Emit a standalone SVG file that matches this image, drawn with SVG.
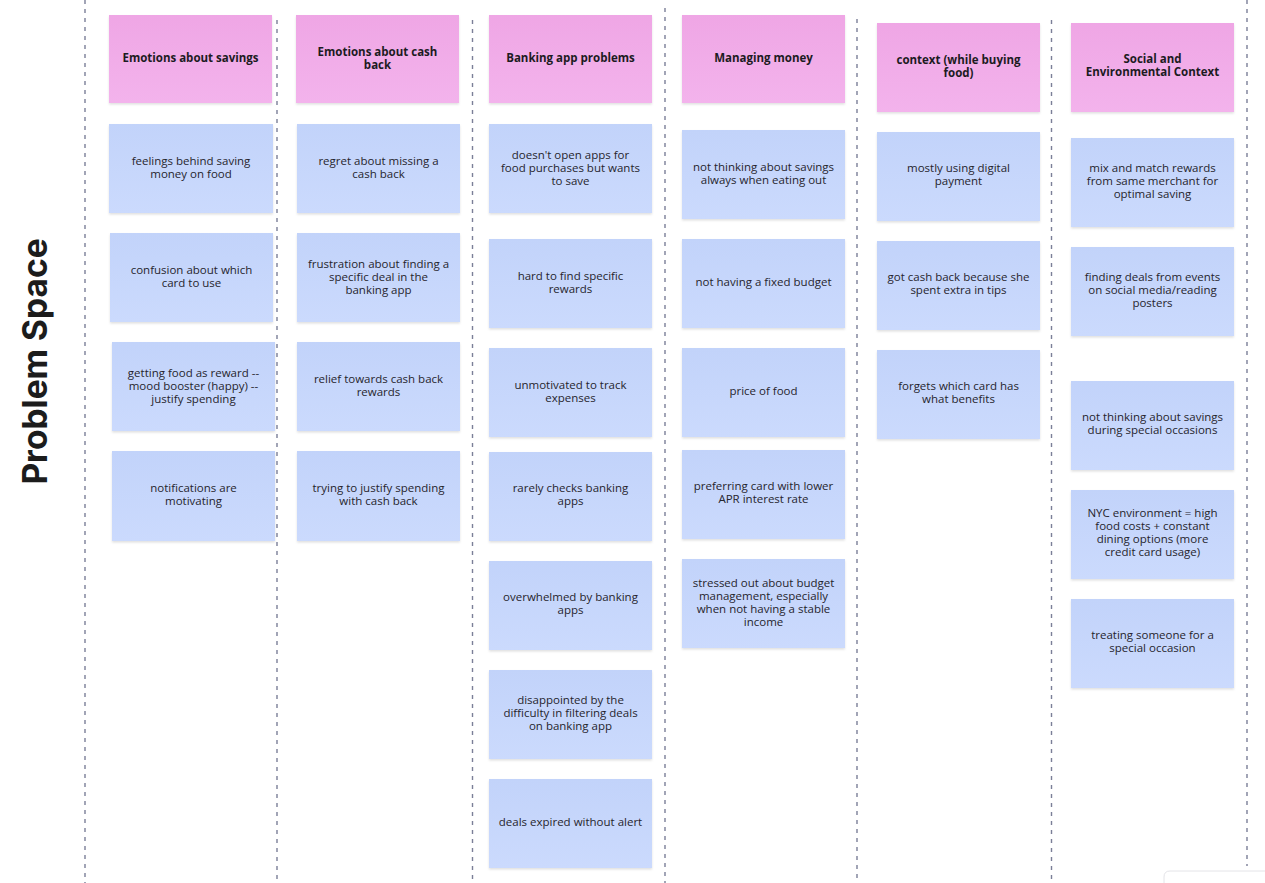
<svg xmlns="http://www.w3.org/2000/svg" width="1265" height="883" viewBox="0 0 1265 883">
<defs>
<linearGradient id="gBlue" x1="0" y1="0" x2="0" y2="1"><stop offset="0" stop-color="#c2d3fa"/><stop offset="1" stop-color="#cbdafd"/></linearGradient>
<linearGradient id="gPink" x1="0" y1="0" x2="0" y2="1"><stop offset="0" stop-color="#efa6e5"/><stop offset="1" stop-color="#f3b3ec"/></linearGradient>
<filter id="sh" x="-10%" y="-10%" width="120%" height="130%"><feDropShadow dx="0" dy="1.5" stdDeviation="1.2" flood-color="#000" flood-opacity="0.12"/></filter>
</defs>
<style>
.div{stroke:#7b7f98;stroke-width:1.4;stroke-dasharray:4 5;fill:none}
.h rect{fill:url(#gPink);filter:url(#sh)}
.n rect{fill:url(#gBlue);filter:url(#sh)}
.h text{font-family:"Open Sans","Liberation Sans",sans-serif;font-weight:700;font-size:11.5px;fill:#1c1b22;text-anchor:middle}
.n text{font-family:"Open Sans","Liberation Sans",sans-serif;font-size:11.5px;fill:#26252d;text-anchor:middle}
.title{font-family:Inter,"Liberation Sans",sans-serif;font-weight:700;font-size:33.5px;fill:#1c1c1c;text-anchor:middle}
</style>
<rect width="1265" height="883" fill="#ffffff"/>
<g id="dividers">
<line class="div" x1="85" y1="0" x2="85" y2="883"/>
<line class="div" x1="277" y1="20" x2="277" y2="883"/>
<line class="div" x1="472.5" y1="20" x2="472.5" y2="883"/>
<line class="div" x1="665" y1="8" x2="665" y2="883"/>
<line class="div" x1="857" y1="19" x2="857" y2="883"/>
<line class="div" x1="1051.5" y1="20" x2="1051.5" y2="883"/>
<line class="div" x1="1247" y1="0" x2="1247" y2="866"/>
</g>
<text id="title" class="title" transform="translate(47,361.5) rotate(-90)">Problem Space</text>
<g id="connectors"></g>

<!-- Column 1 -->
<g id="h1" class="h"><rect x="109" y="15" width="163" height="88"/><text x="190.5" y="62">Emotions about savings</text></g>
<g id="c1n1" class="n"><rect x="109" y="124" width="164" height="89"/><text x="191" y="165">feelings behind saving</text><text x="191" y="178">money on food</text></g>
<g id="c1n2" class="n"><rect x="110" y="233" width="163" height="89"/><text x="191.5" y="274">confusion about which</text><text x="191.5" y="287">card to use</text></g>
<g id="c1n3" class="n"><rect x="112" y="342" width="163" height="89"/><text x="193.5" y="376.5">getting food as reward --</text><text x="193.5" y="389.5">mood booster (happy) --</text><text x="193.5" y="402.5">justify spending</text></g>
<g id="c1n4" class="n"><rect x="112" y="451" width="163" height="90"/><text x="193.5" y="492">notifications are</text><text x="193.5" y="505">motivating</text></g>

<!-- Column 2 -->
<g id="h2" class="h"><rect x="296" y="15" width="163" height="88"/><text x="377.5" y="56">Emotions about cash</text><text x="377.5" y="69">back</text></g>
<g id="c2n1" class="n"><rect x="297" y="124" width="163" height="89"/><text x="378.5" y="165">regret about missing a</text><text x="378.5" y="178">cash back</text></g>
<g id="c2n2" class="n"><rect x="297" y="233" width="163" height="89"/><text x="378.5" y="267.5">frustration about finding a</text><text x="378.5" y="280.5">specific deal in the</text><text x="378.5" y="293.5">banking app</text></g>
<g id="c2n3" class="n"><rect x="297" y="342" width="163" height="89"/><text x="378.5" y="383">relief towards cash back</text><text x="378.5" y="396">rewards</text></g>
<g id="c2n4" class="n"><rect x="297" y="451" width="163" height="90"/><text x="378.5" y="492">trying to justify spending</text><text x="378.5" y="505">with cash back</text></g>

<!-- Column 3 -->
<g id="h3" class="h"><rect x="489" y="15" width="163" height="88"/><text x="570.5" y="62">Banking app problems</text></g>
<g id="c3n1" class="n"><rect x="489" y="124" width="163" height="89"/><text x="570.5" y="158.5">doesn't open apps for</text><text x="570.5" y="171.5">food purchases but wants</text><text x="570.5" y="184.5">to save</text></g>
<g id="c3n2" class="n"><rect x="489" y="239" width="163" height="89"/><text x="570.5" y="280">hard to find specific</text><text x="570.5" y="293">rewards</text></g>
<g id="c3n3" class="n"><rect x="489" y="348" width="163" height="89"/><text x="570.5" y="389">unmotivated to track</text><text x="570.5" y="402">expenses</text></g>
<g id="c3n4" class="n"><rect x="489" y="452" width="163" height="89"/><text x="570.5" y="492">rarely checks banking</text><text x="570.5" y="505">apps</text></g>
<g id="c3n5" class="n"><rect x="489" y="561" width="163" height="89"/><text x="570.5" y="601">overwhelmed by banking</text><text x="570.5" y="614">apps</text></g>
<g id="c3n6" class="n"><rect x="489" y="670" width="163" height="89"/><text x="570.5" y="704">disappointed by the</text><text x="570.5" y="717">difficulty in filtering deals</text><text x="570.5" y="730">on banking app</text></g>
<g id="c3n7" class="n"><rect x="489" y="779" width="163" height="89"/><text x="570.5" y="826">deals expired without alert</text></g>

<!-- Column 4 -->
<g id="h4" class="h"><rect x="682" y="15" width="163" height="88"/><text x="763.5" y="62">Managing money</text></g>
<g id="c4n1" class="n"><rect x="682" y="130" width="163" height="89"/><text x="763.5" y="171">not thinking about savings</text><text x="763.5" y="184">always when eating out</text></g>
<g id="c4n2" class="n"><rect x="682" y="239" width="163" height="89"/><text x="763.5" y="286">not having a fixed budget</text></g>
<g id="c4n3" class="n"><rect x="682" y="348" width="163" height="89"/><text x="763.5" y="395">price of food</text></g>
<g id="c4n4" class="n"><rect x="682" y="450" width="163" height="89"/><text x="763.5" y="490">preferring card with lower</text><text x="763.5" y="503">APR interest rate</text></g>
<g id="c4n5" class="n"><rect x="682" y="559" width="163" height="89"/><text x="763.5" y="586.5">stressed out about budget</text><text x="763.5" y="599.5">management, especially</text><text x="763.5" y="612.5">when not having a stable</text><text x="763.5" y="625.5">income</text></g>

<!-- Column 5 -->
<g id="h5" class="h"><rect x="877" y="23" width="163" height="89"/><text x="958.5" y="64">context (while buying</text><text x="958.5" y="77">food)</text></g>
<g id="c5n1" class="n"><rect x="877" y="132" width="163" height="89"/><text x="958.5" y="172">mostly using digital</text><text x="958.5" y="185">payment</text></g>
<g id="c5n2" class="n"><rect x="877" y="241" width="163" height="89"/><text x="958.5" y="281">got cash back because she</text><text x="958.5" y="294">spent extra in tips</text></g>
<g id="c5n3" class="n"><rect x="877" y="350" width="163" height="89"/><text x="958.5" y="390">forgets which card has</text><text x="958.5" y="403">what benefits</text></g>

<!-- Column 6 -->
<g id="h6" class="h"><rect x="1071" y="23" width="163" height="89"/><text x="1152.5" y="63">Social and</text><text x="1152.5" y="76">Environmental Context</text></g>
<g id="c6n1" class="n"><rect x="1071" y="138" width="163" height="89"/><text x="1152.5" y="172">mix and match rewards</text><text x="1152.5" y="185">from same merchant for</text><text x="1152.5" y="198">optimal saving</text></g>
<g id="c6n2" class="n"><rect x="1071" y="247" width="163" height="89"/><text x="1152.5" y="281">finding deals from events</text><text x="1152.5" y="294">on social media/reading</text><text x="1152.5" y="307">posters</text></g>
<g id="c6n3" class="n"><rect x="1071" y="381" width="163" height="89"/><text x="1152.5" y="421">not thinking about savings</text><text x="1152.5" y="434">during special occasions</text></g>
<g id="c6n4" class="n"><rect x="1071" y="490" width="163" height="89"/><text x="1152.5" y="517">NYC environment = high</text><text x="1152.5" y="530">food costs + constant</text><text x="1152.5" y="543">dining options (more</text><text x="1152.5" y="556">credit card usage)</text></g>
<g id="c6n5" class="n"><rect x="1071" y="599" width="163" height="89"/><text x="1152.5" y="639">treating someone for a</text><text x="1152.5" y="652">special occasion</text></g>

<path d="M1164,883 L1164,877 Q1164,871 1170,871 L1265,871" fill="#ffffff" stroke="#e4e4e8" stroke-width="1"/>
</svg>
